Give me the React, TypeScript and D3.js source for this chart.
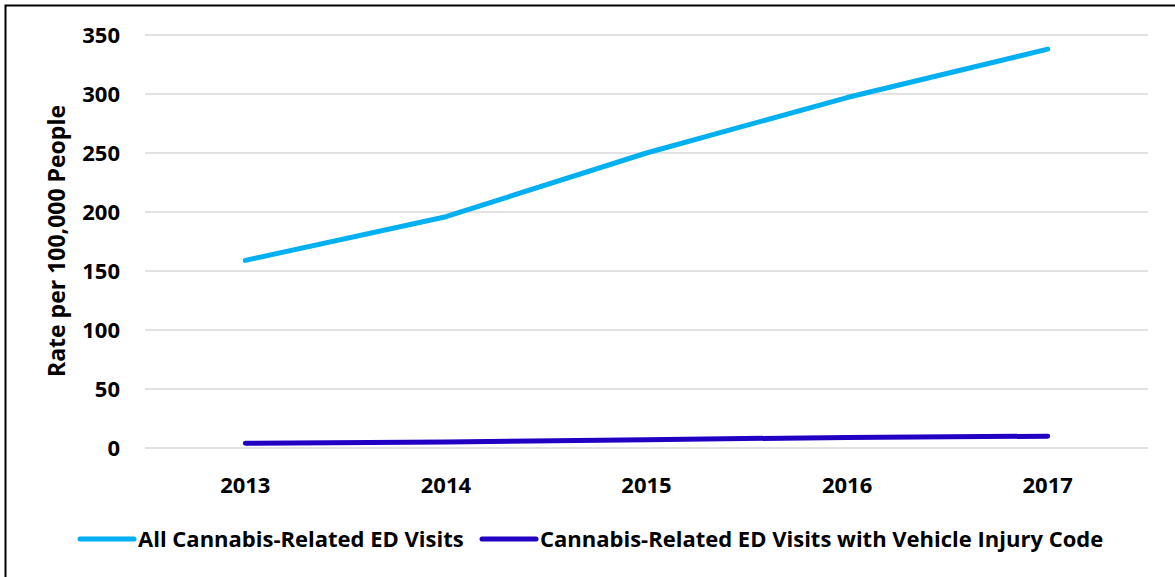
import { useEffect, useRef } from "react";
import * as d3 from "d3";

const years = ["2013", "2014", "2015", "2016", "2017"];
const allVisits = [159, 196, 250, 297, 338];
const vehicleVisits = [4, 5, 7, 9, 10];
const yTicks = [0, 50, 100, 150, 200, 250, 300, 350];
const seriesNames = [
  "All Cannabis-Related ED Visits",
  "Cannabis-Related ED Visits with Vehicle Injury Code",
];
const colors = ["#00B0F0", "#2100C4"];

const FONT = "'Open Sans', 'Noto Sans', sans-serif";

const App = () => {
  const svgRef = useRef<SVGSVGElement>(null);
  const width = 1175;
  const height = 577;
  const margin = { top: 35, left: 145, bottom: 129, right: 27 };

  useEffect(() => {
    const svg = d3.select(svgRef.current);
    svg.selectAll("*").remove();

    // outer frame (only top/left visible in the crop)
    svg
      .append("rect")
      .attr("x", 5.5)
      .attr("y", 5.5)
      .attr("width", width + 10)
      .attr("height", height + 10)
      .attr("fill", "white")
      .attr("stroke", "black")
      .attr("stroke-width", 2);

    const x = d3
      .scaleBand()
      .domain(years)
      .range([margin.left, width - margin.right]);

    const y = d3
      .scaleLinear()
      .domain([0, 350])
      .range([height - margin.bottom, margin.top]);

    // gridlines
    svg
      .append("g")
      .selectAll("line")
      .data(yTicks)
      .enter()
      .append("line")
      .attr("x1", margin.left)
      .attr("x2", width - margin.right)
      .attr("y1", (d) => y(d))
      .attr("y2", (d) => y(d))
      .attr("stroke", "#d9d9d9")
      .attr("stroke-width", 1.5);

    // y tick labels
    svg
      .append("g")
      .selectAll("text")
      .data(yTicks)
      .enter()
      .append("text")
      .attr("x", 120)
      .attr("y", (d) => y(d))
      .attr("dy", "0.35em")
      .attr("text-anchor", "end")
      .attr("font-family", FONT)
      .attr("font-weight", "bold")
      .attr("font-size", 22)
      .text((d) => d);

    // x tick labels
    svg
      .append("g")
      .selectAll("text")
      .data(years)
      .enter()
      .append("text")
      .attr("x", (d) => x(d)! + x.bandwidth() / 2)
      .attr("y", 485)
      .attr("dy", "0.35em")
      .attr("text-anchor", "middle")
      .attr("font-family", FONT)
      .attr("font-weight", "bold")
      .attr("font-size", 22)
      .text((d) => d);

    // y axis title
    svg
      .append("text")
      .attr("transform", `translate(57, 241) rotate(-90)`)
      .attr("dy", "0.35em")
      .attr("text-anchor", "middle")
      .attr("font-family", FONT)
      .attr("font-weight", "bold")
      .attr("font-size", 23)
      .text("Rate per 100,000 People");

    const line = d3
      .line<number>()
      .x((_, i) => x(years[i])! + x.bandwidth() / 2)
      .y((d) => y(d));

    [allVisits, vehicleVisits].forEach((s, i) => {
      svg
        .append("path")
        .datum(s)
        .attr("d", line)
        .attr("fill", "none")
        .attr("stroke", colors[i])
        .attr("stroke-width", 5)
        .attr("stroke-linecap", "round")
        .attr("stroke-linejoin", "round");
    });

    // legend
    const legendX = [80, 482];
    seriesNames.forEach((name, i) => {
      const g = svg.append("g").attr("transform", `translate(${legendX[i]}, 539)`);
      g.append("line")
        .attr("x1", 0)
        .attr("x2", 54)
        .attr("stroke", colors[i])
        .attr("stroke-width", 5)
        .attr("stroke-linecap", "round");
      g.append("text")
        .attr("x", 58)
        .attr("dy", "0.35em")
        .attr("font-family", FONT)
        .attr("font-weight", "bold")
        .attr("font-size", 22)
        .text(name);
    });
  }, []);

  return (
    <svg
      ref={svgRef}
      width={width}
      height={height}
      style={{ position: "absolute", left: 0, top: 0 }}
    />
  );
};

export default App;
